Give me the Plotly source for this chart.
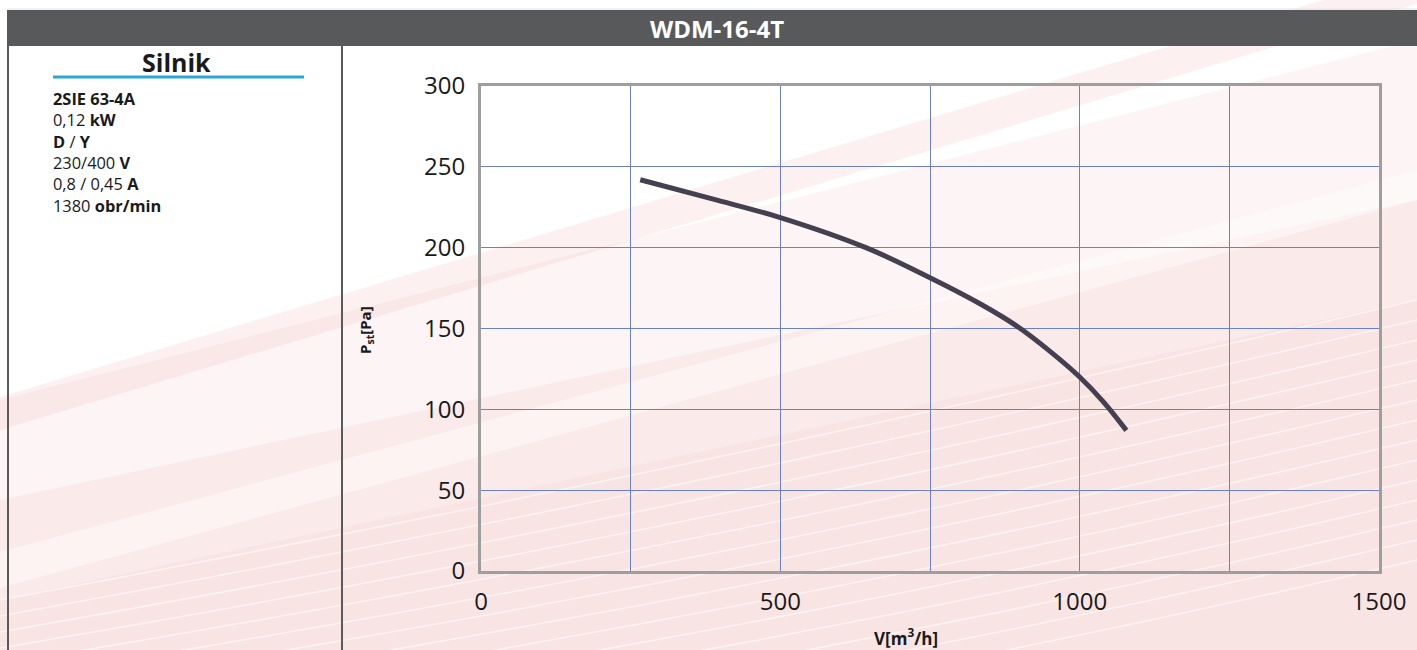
import plotly.graph_objects as go

W, H = 1417, 650

# ---- data ----
flow = [266, 388, 500, 643, 750, 835, 895, 950, 1000, 1040, 1078]
pressure = [242, 230, 218.6, 200, 181.4, 165, 151.5, 136, 120, 104.5, 87]
x_ticks = [0, 500, 1000, 1500]
y_ticks = [0, 50, 100, 150, 200, 250, 300]
title_text = "WDM-16-4T"
panel_title = "Silnik"
spec_lines = [
    "<b>2SIE 63-4A</b>",
    "0,12 <b>kW</b>",
    "<b>D</b> / <b>Y</b>",
    "230/400 <b>V</b>",
    "0,8 / 0,45 <b>A</b>",
    "1380 <b>obr/min</b>",
]

FONT = "Open Sans"

def px(x, y):
    return x / W, 1 - y / H

def path(points):
    parts = []
    for i, (x, y) in enumerate(points):
        X, Y = px(x, y)
        parts.append(("M" if i == 0 else "L") + f" {X:.5f} {Y:.5f}")
    return " ".join(parts) + " Z"

shapes = []
# background decoration
shapes.append(dict(type="path", xref="paper", yref="paper", layer="below",
                   path=path([(0, 400), (1417, 40), (1417, 650), (0, 650)]),
                   fillcolor="rgba(225,120,120,0.07)", line=dict(width=0)))
shapes.append(dict(type="path", xref="paper", yref="paper", layer="below",
                   path=path([(0, 500), (1417, 200), (1417, 650), (0, 650)]),
                   fillcolor="rgba(225,120,120,0.08)", line=dict(width=0)))
shapes.append(dict(type="path", xref="paper", yref="paper", layer="below",
                   path=path([(0, 600), (1417, 300), (1417, 650), (0, 650)]),
                   fillcolor="rgba(225,120,120,0.05)", line=dict(width=0)))
shapes.append(dict(type="path", xref="paper", yref="paper", layer="below",
                   path=path([(0, 397), (1417, -28), (1417, 4), (0, 430)]),
                   fillcolor="rgba(225,110,110,0.10)", line=dict(width=0)))
shapes.append(dict(type="path", xref="paper", yref="paper", layer="below",
                   path=path([(0, 552), (1417, 170), (1417, 200), (0, 588)]),
                   fillcolor="rgba(255,255,255,0.45)", line=dict(width=0)))
for i in range(14):
    x0, y0 = 0, 600 + 16 * i
    x1, y1 = 1417, 300 + 20 * i
    cx, cy = 700, 470 + 20 * i
    X0, Y0 = px(x0, y0)
    X1, Y1 = px(x1, y1)
    CX, CY = px(cx, cy)
    shapes.append(dict(type="path", xref="paper", yref="paper", layer="below",
                       path=f"M {X0:.5f} {Y0:.5f} Q {CX:.5f} {CY:.5f} {X1:.5f} {Y1:.5f}",
                       line=dict(color="rgba(255,255,255,0.55)", width=1.5)))

# frame elements
X0, Y0 = px(7, 10)
X1, Y1 = px(1417, 46)
shapes.append(dict(type="rect", xref="paper", yref="paper", x0=X0, y0=Y0, x1=X1, y1=Y1,
                   fillcolor="#58595b", line=dict(width=0)))
X0, Y0 = px(7, 9)
X1, _ = px(1417, 9)
shapes.append(dict(type="line", xref="paper", yref="paper", x0=X0, y0=Y0, x1=X1, y1=Y0,
                   line=dict(color="#e2e2e2", width=1)))
for xv in (8, 342):
    Xa, Ya = px(xv, 46)
    _, Yb = px(xv, 650)
    shapes.append(dict(type="line", xref="paper", yref="paper", x0=Xa, y0=Ya, x1=Xa, y1=Yb,
                       line=dict(color="#5a5a5a", width=2)))
Xa, Ya = px(53, 77)
Xb, _ = px(304, 77)
shapes.append(dict(type="line", xref="paper", yref="paper", x0=Xa, y0=Ya, x1=Xb, y1=Ya,
                   line=dict(color="#2aa7d6", width=3)))

annotations = []
tx, ty = px(717, 28)
annotations.append(dict(text=f"<b>{title_text}</b>", x=tx, y=ty, xref="paper", yref="paper",
                        showarrow=False, font=dict(family=FONT, size=24, color="white"),
                        xanchor="center", yanchor="middle"))
tx, ty = px(176, 62)
annotations.append(dict(text=f"<b>{panel_title}</b>", x=tx, y=ty, xref="paper", yref="paper",
                        showarrow=False, font=dict(family=FONT, size=25, color="#1a1a1a"),
                        xanchor="center", yanchor="middle"))
tx, ty = px(52, 86)
annotations.append(dict(text="<br>".join(spec_lines), x=tx, y=ty, xref="paper", yref="paper",
                        showarrow=False, align="left",
                        font=dict(family=FONT, size=16.4, color="#1a1a1a"),
                        xanchor="left", yanchor="top", borderpad=0))
tx, ty = px(906, 637)
annotations.append(dict(text="<b>V[m<sup>3</sup>/h]</b>", x=tx, y=ty, xref="paper", yref="paper",
                        showarrow=False, font=dict(family=FONT, size=17, color="#1a1a1a"),
                        xanchor="center", yanchor="middle", height=24))
tx, ty = px(366, 330)
annotations.append(dict(text="<b>P<sub>st</sub>[Pa]</b>", x=tx, y=ty, xref="paper", yref="paper",
                        showarrow=False, textangle=-90,
                        font=dict(family=FONT, size=15, color="#1a1a1a"),
                        xanchor="center", yanchor="middle"))

fig = go.Figure()
fig.add_trace(go.Scatter(x=flow, y=pressure, mode="lines", line_shape="spline",
                         line=dict(color="#45404f", width=5), hoverinfo="x+y",
                         showlegend=False))

dx0, _ = px(481, 0)
dx1, _ = px(1379, 0)
_, dy0 = px(0, 571)
_, dy1 = px(0, 86)

fig.update_layout(
    width=W, height=H, autosize=False,
    margin=dict(l=0, r=0, t=0, b=0, pad=0),
    paper_bgcolor="white",
    plot_bgcolor="rgba(0,0,0,0)",
    font=dict(family=FONT, color="#1a1a1a"),
    shapes=shapes,
    annotations=annotations,
    xaxis=dict(domain=[dx0, dx1], range=[0, 1500], tickvals=x_ticks,
               ticktext=[str(v) for v in x_ticks], automargin=False,
               showgrid=False, zeroline=False,
               showline=True, linecolor="#9e9e9e", linewidth=3, mirror=True,
               ticks="", tickfont=dict(size=24, color="#1a1a1a"),
               ticklabelstandoff=7, fixedrange=True,
               minor=dict(dtick=250, showgrid=True, gridcolor="#6c80c8", gridwidth=1.2)),
    yaxis=dict(domain=[dy0, dy1], range=[0, 300], tickvals=y_ticks, automargin=False,
               showgrid=True, gridcolor="#6c80c8", gridwidth=1.2, zeroline=False,
               showline=True, linecolor="#9e9e9e", linewidth=3, mirror=True,
               ticks="", tickfont=dict(size=24, color="#1a1a1a"),
               ticklabelstandoff=8, fixedrange=True),
)

fig.write_html("out.html", config={"displayModeBar": False},
               post_script="document.body.style.margin='0';document.body.style.overflow='hidden';")
